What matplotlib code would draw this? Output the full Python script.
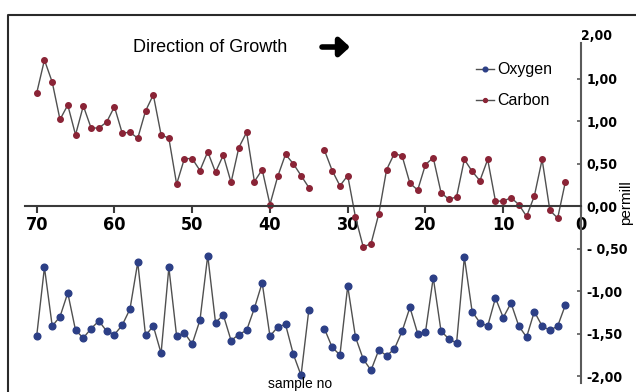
import numpy as np
import matplotlib.pyplot as plt
from matplotlib.lines import Line2D

'''
Data (sample no 70 ... 2, no value at 34)
'''
samples = np.arange(70, 1, -1)

carbon = [1.33, 1.72, 1.46, 1.02, 1.19, 0.84, 1.18, 0.92, 0.92, 0.99,
          1.17, 0.86, 0.87, 0.80, 1.12, 1.31, 0.84, 0.80, 0.26, 0.56,
          0.56, 0.42, 0.64, 0.40, 0.60, 0.28, 0.69, 0.87, 0.29, 0.43,
          0.02, 0.35, 0.61, 0.50, 0.36, 0.22, np.nan, 0.66, 0.42, 0.24,
          0.36, -0.13, -0.48, -0.44, -0.09, 0.43, 0.62, 0.59, 0.27, 0.19,
          0.49, 0.57, 0.16, 0.08, 0.11, 0.55, 0.41, 0.30, 0.55, 0.06,
          0.06, 0.10, 0.02, -0.12, 0.12, 0.55, -0.05, -0.14, 0.29]

oxygen = [-1.53, -0.72, -1.41, -1.30, -1.02, -1.46, -1.55, -1.44, -1.35, -1.47,
          -1.51, -1.40, -1.21, -0.66, -1.52, -1.41, -1.73, -0.72, -1.53, -1.49,
          -1.62, -1.34, -0.58, -1.37, -1.28, -1.58, -1.51, -1.46, -1.20, -0.90,
          -1.53, -1.42, -1.39, -1.74, -1.99, -1.22, np.nan, -1.44, -1.66, -1.75,
          -0.94, -1.54, -1.80, -1.93, -1.69, -1.76, -1.68, -1.47, -1.19, -1.50,
          -1.48, -0.84, -1.47, -1.56, -1.61, -0.60, -1.24, -1.37, -1.41, -1.08,
          -1.31, -1.14, -1.41, -1.54, -1.24, -1.41, -1.46, -1.41, -1.16]

xticks = [70, 60, 50, 40, 30, 20, 10, 0]
yticks = [1.5, 1.0, 0.5, 0.0, -0.5, -1.0, -1.5, -2.0]
ytick_labels = ['1,00', '1,00', '0,50', '0,00', '- 0,50', '-1,00', '-1,50', '-2,00']

'''
Plot
'''
plt.rcParams['font.family'] = ['Liberation Sans', 'DejaVu Sans']
cond = dict(family='DejaVu Sans', fontstretch='condensed', fontweight='bold')

fig = plt.figure(figsize=(6.36, 3.92), dpi=100)
ax = fig.add_axes([25/636, 9/392, 556/636, 340/392])

ax.plot(samples, oxygen, color='#505050', lw=1.0, marker='o', ms=4.8,
        mfc='#2c3f86', mec='#2c3f86', label='Oxygen')
ax.plot(samples, carbon, color='#505050', lw=1.0, marker='o', ms=4,
        mfc='#8a2436', mec='#8a2436', label='Carbon')

ax.set_xlim(71.5, 0)
ax.set_ylim(-2.08, 1.92)

for s in ['top', 'left']:
    ax.spines[s].set_visible(False)
ax.spines['bottom'].set_position(('data', 0))
ax.spines['bottom'].set_color('#3a3a3a')
ax.spines['bottom'].set_linewidth(1.5)
ax.spines['right'].set_color('#5a5a5a')
ax.spines['right'].set_linewidth(1.5)

ax.set_xticks(xticks)
ax.set_xticklabels([str(v) for v in xticks], fontsize=13, **cond)
ax.tick_params(axis='x', direction='out', length=5, width=1.5, color='#3a3a3a', pad=2)

ax.yaxis.tick_right()
ax.set_yticks(yticks)
ax.set_yticklabels(ytick_labels, fontsize=10, **cond)
ax.tick_params(axis='y', direction='in', length=3, width=1.2, color='#5a5a5a', pad=4)
ax.text(1.0, 2.0, '2,00', transform=ax.get_yaxis_transform(), ha='left', va='center',
        fontsize=10, clip_on=False, **cond)

ax.legend(loc='upper left', bbox_to_anchor=(462/636, 1 - 48/392), bbox_transform=fig.transFigure,
          frameon=False, fontsize=11.5, handlelength=1.1, handletextpad=0.2,
          labelspacing=1.0, markerscale=0.7)

fig.text(133/636, 1 - 47/392, 'Direction of Growth', fontsize=13, ha='left', va='center')
ax.annotate('', xy=(350, 345), xytext=(322, 345), xycoords='figure pixels',
            arrowprops=dict(arrowstyle='-|>,head_length=0.6,head_width=0.55',
                            lw=4, color='black', shrinkA=0, shrinkB=0))

fig.text(626/636, 1 - 203/392, 'permill', rotation=90, fontsize=11, ha='center', va='center')
fig.text(300/636, 1/392, 'sample no', fontsize=10, ha='center', va='bottom')

# outer frame
fig.add_artist(Line2D([8/636, 8/636, 1.0], [0, 1 - 15/392, 1 - 15/392],
                      transform=fig.transFigure, color='#2a2a2a', lw=1.5))

plt.savefig('out.png', dpi=100)
